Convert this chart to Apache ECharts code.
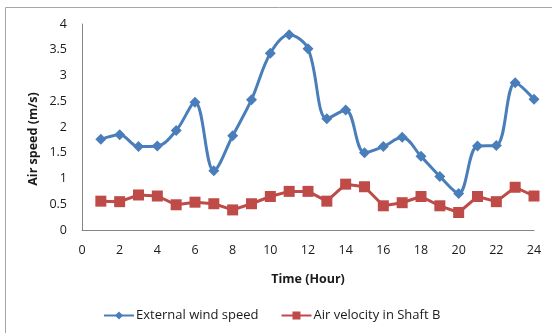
<!DOCTYPE html>
<html>
<head>
<meta charset="utf-8">
<script src="https://cdn.jsdelivr.net/npm/echarts@6/dist/echarts.min.js"></script>
<style>html,body{margin:0;padding:0;background:#fff;}#c{width:552px;height:333px;}</style>
</head>
<body>
<div id="c"></div>
<script>
const hours = [1,2,3,4,5,6,7,8,9,10,11,12,13,14,15,16,17,18,19,20,21,22,23,24];
const externalWind = [1.76,1.85,1.62,1.63,1.93,2.48,1.15,1.83,2.53,3.43,3.79,3.52,2.16,2.33,1.50,1.62,1.80,1.43,1.04,0.71,1.63,1.64,2.86,2.54];
const shaftB = [0.56,0.55,0.68,0.66,0.49,0.54,0.51,0.39,0.51,0.65,0.75,0.75,0.56,0.89,0.84,0.47,0.53,0.65,0.47,0.34,0.65,0.55,0.83,0.66];
const seriesNames = ['External wind speed','Air velocity in Shaft B'];
const xTitle = 'Time (Hour)';
const yTitle = 'Air speed (m/s)';

const font = '"Open Sans", "DejaVu Sans", sans-serif';
const chart = echarts.init(document.getElementById('c'), null, {renderer:'canvas'});
chart.setOption({
  animation:false,
  backgroundColor:'#fff',
  textStyle:{fontFamily:font},
  graphic:[
    {type:'rect', shape:{x:5.5,y:7.5,width:600,height:400}, style:{fill:'none',stroke:'#a6a6a6',lineWidth:1}, silent:true},
    {type:'text', x:33, y:139, rotation:Math.PI/2, style:{text:yTitle, fontFamily:font, fontWeight:'bold', fontSize:12.5, fill:'#1a1a1a', align:'center', verticalAlign:'middle'}}
  ],
  grid:{left:82, right:18, top:24, bottom:103, containLabel:false},
  legend:{
    left:103, top:309, padding:0, itemWidth:30, itemHeight:10, itemGap:22,
    textStyle:{fontFamily:font, fontSize:13, color:'#1a1a1a', padding:[0,0,0,-3]},
    data:seriesNames
  },
  xAxis:{
    type:'value', min:0, max:24, interval:2,
    name:xTitle, nameLocation:'middle', nameGap:43,
    nameTextStyle:{fontFamily:font, fontWeight:'bold', fontSize:12.5, color:'#1a1a1a'},
    axisLine:{show:true, onZero:false, lineStyle:{color:'#868686', width:1}},
    axisTick:{show:false},
    splitLine:{show:false},
    axisLabel:{fontFamily:font, fontSize:12.5, color:'#1a1a1a', margin:14}
  },
  yAxis:{
    type:'value', min:0, max:4, interval:0.5,
    axisLine:{show:true, lineStyle:{color:'#868686', width:1}},
    axisTick:{show:false},
    splitLine:{show:false},
    axisLabel:{fontFamily:font, fontSize:12.5, color:'#1a1a1a', margin:15}
  },
  series:[
    {
      name:seriesNames[0], type:'line', smooth:0.35,
      data:hours.map((h,i)=>[h, externalWind[i]]),
      symbol:'diamond', symbolSize:11,
      lineStyle:{color:'#4a7ebb', width:3},
      itemStyle:{color:'#4a7ebb'}
    },
    {
      name:seriesNames[1], type:'line', smooth:false,
      data:hours.map((h,i)=>[h, shaftB[i]]),
      symbol:'rect', symbolSize:11,
      lineStyle:{color:'#be4b48', width:3},
      itemStyle:{color:'#be4b48'}
    }
  ]
});
</script>
</body>
</html>
